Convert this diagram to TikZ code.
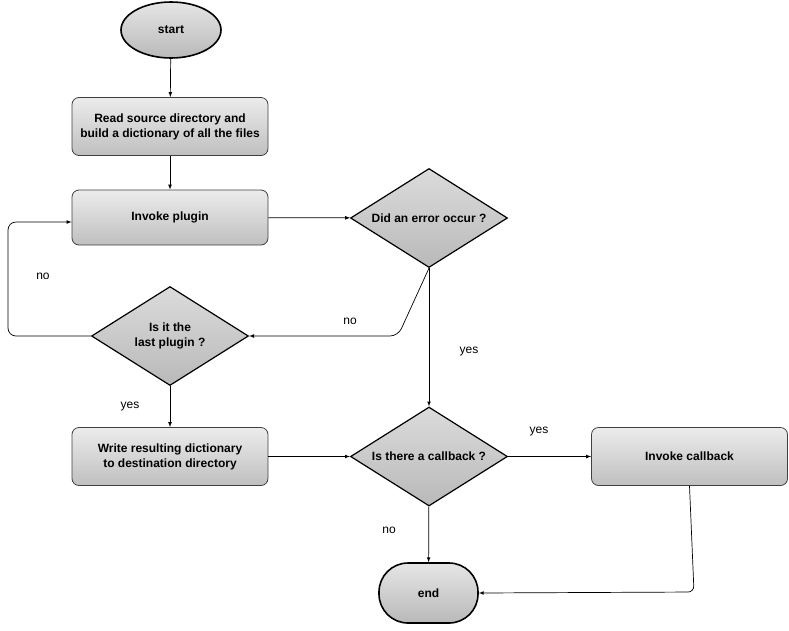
\documentclass[tikz,border=0pt]{standalone}
\usepackage{fontspec}
\setmainfont{Liberation Sans}
\usetikzlibrary{shapes.geometric}
\usetikzlibrary{arrows}
\tikzset{%
    terminal/.style={draw=black,line width=1.6pt,top color=gray!20,bottom color=gray!55,
        font=\bfseries\fontsize{12}{15}\selectfont,inner sep=0pt},
    process/.style={draw=black!75,line width=0.8pt,rounded corners=7pt,top color=gray!15,
        bottom color=gray!50,minimum width=196pt,minimum height=58pt,align=center,
        font=\bfseries\fontsize{12}{15}\selectfont,inner sep=0pt},
    decision/.style={diamond,draw=black,line width=1.2pt,top color=gray!28,bottom color=gray!55,
        minimum width=157pt,minimum height=99pt,aspect=1.6,inner sep=0pt,align=center,
        font=\bfseries\fontsize{12}{15}\selectfont},
    answer/.style={font=\fontsize{12}{14}\selectfont,inner sep=0pt},
    flow/.style={-latex,line width=0.7pt,black},
}
\begin{document}
\begin{tikzpicture}[x=1pt,y=-1pt]
  \useasboundingbox (0,0) rectangle (789,630);

  % left column
  \node[terminal,ellipse,minimum width=100pt,minimum height=56pt] (start) at (171,30) {start};
  \node[process] (read) at (170,126.5) {Read source directory and\\build a dictionary of all the files};
  \node[process,minimum height=55pt] (plugin) at (170,217.5) {Invoke plugin};
  \node[decision] (last) at (170,336) {Is it the\\last plugin ?};
  \node[process] (write) at (170,456.5) {Write resulting dictionary\\to destination directory};

  % right side
  \node[decision] (error) at (429,218) {Did an error occur ?};
  \node[decision] (callback) at (429,456.5) {Is there a callback ?};
  \node[process] (invoke) at (689.5,456.5) {Invoke callback};
  \node[terminal,rounded corners=29pt,minimum width=99pt,minimum height=60pt] (end) at (428.5,593) {end};

  \coordinate (bendErr) at (398,336);
  \coordinate (loopLow) at (8,336);
  \coordinate (loopHigh) at (8,222);
  \coordinate (bendEnd) at (694,592);

  \draw[flow] (start) -- (read);
  \draw[flow] (read) -- (plugin);
  \draw[flow] (plugin) -- (error);
  \draw[flow] (error) -- (callback);
  \draw[flow,rounded corners=8pt] (error.south) -- (bendErr) -- (last.east);
  \draw[flow,rounded corners=8pt] (last.west) -- (loopLow) -- (loopHigh) -- (plugin.west |- loopHigh);
  \draw[flow] (last) -- (write);
  \draw[flow] (write) -- (callback);
  \draw[flow] (callback) -- (invoke);
  \draw[flow] (callback) -- (end);
  \draw[flow,rounded corners=6pt] (invoke.south) -- (bendEnd) -- (end.east);

  % answers
  \node[answer] (noLoop) at (43,276) {no};
  \node[answer] (noErr) at (350,321) {no};
  \node[answer] (yesErr) at (469,352) {yes};
  \node[answer] (yesLast) at (130,407) {yes};
  \node[answer] (yesCb) at (539,432) {yes};
  \node[answer] (noCb) at (389,530) {no};
\end{tikzpicture}
\end{document}
